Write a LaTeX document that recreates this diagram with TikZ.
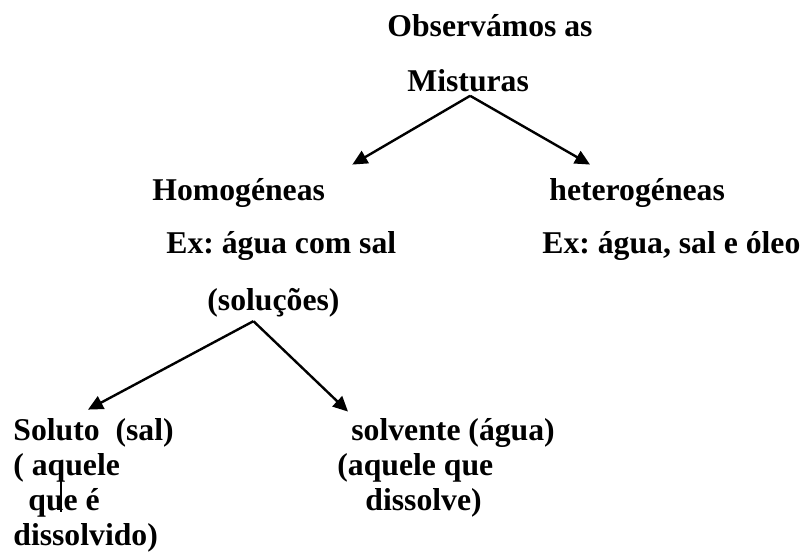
\documentclass[tikz,border=0pt]{standalone}
\usepackage{fontspec}
\setmainfont{Liberation Serif}
\usetikzlibrary{arrows.meta, positioning}
\frenchspacing

\begin{document}
\begin{tikzpicture}[
	x=0.5pt, y=-0.5pt,
	rotulo/.style={
		inner sep=0pt,
		anchor=base west,
		align=left,
		font=\fontsize{15.85}{17.5}\selectfont\bfseries
	},
	seta/.style={-{Triangle[length=7.5pt, width=7pt]}, line width=1.2pt}
	]
	
	\useasboundingbox (0,0) rectangle (805,554);
	
	\node[rotulo] (obs) at (387,36) {Observámos as};
	
	\node[rotulo] (misturas) at (407,91) {Misturas};
	
	\node[rotulo] (homog) at (152,200) {Homogéneas};
	
	\node[rotulo] (heterog) at (549,200) {heterogéneas};
	
	\node[rotulo] (exhomog) at (166,253) {Ex: água com sal};
	
	\node[rotulo] (exheterog) at (542,253) {Ex: água, sal e óleo};
	
	\node[rotulo] (solucoes) at (207,310) {(soluções)};
	
	% base = last line of the block
	\node[rotulo] (soluto) at (13,545)
	{Soluto\ \ (sal)\\( aquele\\\hspace{7.5pt}que é\\dissolvido)};
	
	\node[rotulo] (solvente) at (337,510)
	{\hspace{7pt}solvente (água)\\(aquele que\\\hspace{14pt}dissolve)};
	
	\draw[seta] ([shift={(2,4)}]misturas.south) -- ([shift={(27,-13)}]homog.north east);
	\draw[seta] ([shift={(2,4)}]misturas.south) -- ([shift={(41,-13)}]heterog.north west);
	
	\draw[seta] ([shift={(-20,4)}]solucoes.south) -- ([shift={(75,-8)}]soluto.north west);
	\draw[seta] ([shift={(-20,4)}]solucoes.south) -- ([shift={(11,-6)}]solvente.north west);
	
	\draw[line width=0.6pt] (61,478) -- (61,512);
	
\end{tikzpicture}
\end{document}
